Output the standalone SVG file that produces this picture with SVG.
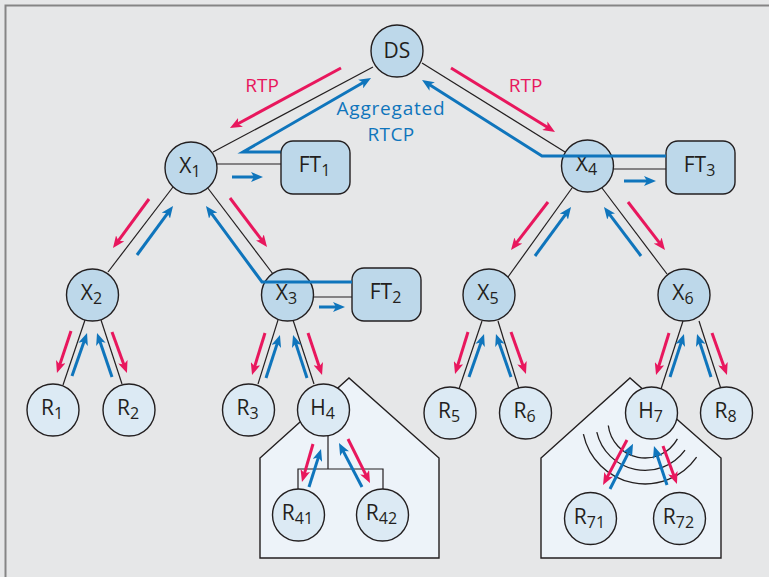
<svg xmlns="http://www.w3.org/2000/svg" width="769" height="577" viewBox="0 0 769 577">
<style>
.bg{fill:#e6e7e8}
.frame{stroke:#858585;stroke-width:2;fill:none}
.house{fill:#edf3f9;stroke:#231f20;stroke-width:1.4}
.ln{stroke:#231f20;stroke-width:1.2;fill:none}
.r{stroke:#e8175d;stroke-width:3;fill:none;marker-end:url(#ar)}
.b{stroke:#0f75bc;stroke-width:3;fill:none;marker-end:url(#ab)}
.bn{stroke:#0f75bc;stroke-width:3;fill:none}
.arc{stroke:#231f20;stroke-width:1.3;fill:none}
.n1{fill:#bdd8ea;stroke:#231f20;stroke-width:1.4}
.n2{fill:#dceaf4;stroke:#231f20;stroke-width:1.4}
.lbl{font-family:"Open Sans","Noto Sans",sans-serif;font-size:21px;fill:#231f20;text-anchor:middle}
.sub{font-size:16px}
.rtp{font-family:"Open Sans","Noto Sans",sans-serif;font-size:19px;fill:#e8175d;text-anchor:middle}
.agg{font-family:"Open Sans","Noto Sans",sans-serif;font-size:19px;fill:#0f75bc;text-anchor:middle}
</style>
<defs>
<marker id="ar" viewBox="0 0 12 10" markerWidth="12" markerHeight="10" refX="4" refY="5" orient="auto" markerUnits="userSpaceOnUse"><path d="M0,0 L12,5 L0,10 L3,5 z" fill="#e8175d"/></marker>
<marker id="ab" viewBox="0 0 12 10" markerWidth="12" markerHeight="10" refX="4" refY="5" orient="auto" markerUnits="userSpaceOnUse"><path d="M0,0 L12,5 L0,10 L3,5 z" fill="#0f75bc"/></marker>
</defs>
<rect class="bg" x="0" y="0" width="769" height="577"/>
<path class="frame" d="M5.5,577 V5.5 H769"/>
<g id="houses">
<polygon class="house" points="260,558 260,458 349,378 439,458 439,558"/>
<polygon class="house" points="541,558 541,458 630,378 721,458 721,558"/>
</g>
<g id="labels">
<text class="rtp" x="262" y="92">RTP</text>
<text class="rtp" x="525.5" y="92">RTP</text>
<text class="agg" x="391" y="115" letter-spacing="0.8">Aggregated</text>
<text class="agg" x="391" y="141" letter-spacing="0.4">RTCP</text>
</g>
<g id="connectors">
<line class="ln" x1="373" y1="67" x2="213" y2="152"/>
<line class="ln" x1="422" y1="63" x2="565" y2="152"/>
<line class="ln" x1="217" y1="164" x2="281" y2="164"/>
<line class="ln" x1="613" y1="169" x2="666" y2="169"/>
<line class="ln" x1="173" y1="187" x2="108" y2="272"/>
<line class="ln" x1="207" y1="187" x2="273" y2="274"/>
<line class="ln" x1="313" y1="297" x2="352" y2="297"/>
<line class="ln" x1="572" y1="188" x2="508" y2="277"/>
<line class="ln" x1="602" y1="188" x2="667" y2="274"/>
<line class="ln" x1="85" y1="320" x2="63" y2="385"/>
<line class="ln" x1="101" y1="320" x2="122" y2="384"/>
<line class="ln" x1="278" y1="320" x2="258" y2="384"/>
<line class="ln" x1="293" y1="320" x2="314" y2="384"/>
<line class="ln" x1="482" y1="321" x2="459" y2="389"/>
<line class="ln" x1="498" y1="321" x2="519" y2="389"/>
<line class="ln" x1="683" y1="321" x2="661" y2="389"/>
<line class="ln" x1="699" y1="321" x2="721" y2="389"/>
<path class="ln" d="M328,435 V469 M298,489 V469 H383 V489"/>
<path class="arc" d="M608.3,425.5 A37,37 0 0 0 677.4,438.9"/>
<path class="arc" d="M596.8,432.1 A49.5,49.5 0 0 0 685,450.1"/>
<path class="arc" d="M583.4,434.1 A63,63 0 0 0 696.6,457.1"/>
<line class="r" x1="341" y1="68" x2="237" y2="124.2"/>
<path class="b" d="M281,152 H243 L364.1,82"/>
<line class="b" x1="232" y1="177" x2="255" y2="177"/>
<line class="r" x1="451" y1="68" x2="548.2" y2="127.8"/>
<line class="b" x1="624" y1="181" x2="648" y2="181"/>
<line class="r" x1="149" y1="199" x2="117.7" y2="241.6"/>
<line class="b" x1="137" y1="255" x2="168.3" y2="212.4"/>
<line class="r" x1="230" y1="198" x2="262.2" y2="240.6"/>
<line class="b" x1="319" y1="307" x2="337" y2="307"/>
<line class="r" x1="548" y1="202" x2="515.9" y2="243.7"/>
<line class="b" x1="535" y1="256" x2="566.3" y2="213.4"/>
<line class="b" x1="641" y1="256" x2="608.8" y2="213.4"/>
<line class="r" x1="628" y1="202" x2="660.1" y2="243.7"/>
<line class="r" x1="71" y1="331" x2="59.5" y2="365.4"/>
<line class="b" x1="72" y1="376" x2="84.4" y2="340.6"/>
<line class="b" x1="112" y1="377" x2="99.6" y2="340.6"/>
<line class="r" x1="112" y1="332" x2="124.2" y2="365.5"/>
<line class="r" x1="265" y1="333" x2="254.4" y2="367.4"/>
<line class="b" x1="266" y1="378" x2="277.5" y2="342.6"/>
<line class="b" x1="307" y1="378" x2="295.5" y2="342.6"/>
<line class="r" x1="308" y1="333" x2="319.5" y2="367.4"/>
<line class="r" x1="468" y1="332" x2="457.4" y2="366.4"/>
<line class="b" x1="469" y1="377" x2="481.4" y2="341.6"/>
<line class="b" x1="511" y1="377" x2="498.6" y2="341.6"/>
<line class="r" x1="511" y1="332" x2="523.3" y2="366.5"/>
<line class="r" x1="669" y1="333" x2="658.4" y2="367.4"/>
<line class="b" x1="670" y1="377" x2="681.5" y2="341.6"/>
<line class="b" x1="711" y1="377" x2="699.5" y2="341.6"/>
<line class="r" x1="712" y1="333" x2="724.3" y2="367.5"/>
<line class="r" x1="313" y1="444" x2="304.2" y2="474.3"/>
<line class="b" x1="309" y1="487" x2="318.6" y2="456.6"/>
<line class="b" x1="362" y1="487" x2="342.7" y2="450.1"/>
<line class="r" x1="348" y1="439" x2="366.4" y2="475.8"/>
<line class="r" x1="627" y1="440" x2="606.8" y2="477.9"/>
<line class="b" x1="610" y1="489" x2="629.4" y2="450.9"/>
<line class="b" x1="667" y1="485" x2="656.5" y2="453.6"/>
<line class="r" x1="663" y1="446" x2="674.2" y2="476.5"/>
</g>
<g id="DS"><circle class="n1" cx="397" cy="51" r="26"/><text class="lbl" x="397" y="58">DS</text></g>
<g id="X1"><circle class="n1" cx="191" cy="168" r="26"/><text class="lbl" x="190" y="173">X<tspan class="sub" dy="4">1</tspan></text></g>
<g id="FT1"><rect class="n1" x="281" y="141" width="69" height="53" rx="12"/><text class="lbl" x="314.5" y="172">FT<tspan class="sub" dy="4">1</tspan></text></g>
<g id="X4"><circle class="n1" cx="587.5" cy="166" r="26"/><text class="lbl" x="586.5" y="171">X<tspan class="sub" dy="4">4</tspan></text></g>
<g id="FT3"><rect class="n1" x="666" y="141" width="69" height="53" rx="12"/><text class="lbl" x="699.5" y="172">FT<tspan class="sub" dy="4">3</tspan></text></g>
<g id="X2"><circle class="n1" cx="92.5" cy="295" r="26"/><text class="lbl" x="91.5" y="300">X<tspan class="sub" dy="4">2</tspan></text></g>
<g id="X3"><circle class="n1" cx="287.5" cy="295" r="26"/><text class="lbl" x="286.5" y="300">X<tspan class="sub" dy="4">3</tspan></text></g>
<g id="FT2"><rect class="n1" x="352" y="268" width="69" height="53" rx="12"/><text class="lbl" x="385.5" y="299">FT<tspan class="sub" dy="4">2</tspan></text></g>
<g id="X5"><circle class="n1" cx="489" cy="295" r="26"/><text class="lbl" x="488" y="300">X<tspan class="sub" dy="4">5</tspan></text></g>
<g id="X6"><circle class="n1" cx="684" cy="295" r="26"/><text class="lbl" x="683" y="300">X<tspan class="sub" dy="4">6</tspan></text></g>
<g id="R1"><circle class="n2" cx="53" cy="410" r="26"/><text class="lbl" x="52" y="415">R<tspan class="sub" dy="4">1</tspan></text></g>
<g id="R2"><circle class="n2" cx="129" cy="410" r="26"/><text class="lbl" x="128" y="415">R<tspan class="sub" dy="4">2</tspan></text></g>
<g id="R3"><circle class="n2" cx="248.5" cy="410" r="26"/><text class="lbl" x="247.5" y="415">R<tspan class="sub" dy="4">3</tspan></text></g>
<g id="H4"><circle class="n2" cx="323.5" cy="410" r="26"/><text class="lbl" x="322.5" y="415">H<tspan class="sub" dy="4">4</tspan></text></g>
<g id="R5"><circle class="n2" cx="450" cy="413" r="26"/><text class="lbl" x="449" y="418">R<tspan class="sub" dy="4">5</tspan></text></g>
<g id="R6"><circle class="n2" cx="525.5" cy="413" r="26"/><text class="lbl" x="524.5" y="418">R<tspan class="sub" dy="4">6</tspan></text></g>
<g id="H7"><circle class="n2" cx="651.5" cy="413" r="26"/><text class="lbl" x="650.5" y="418">H<tspan class="sub" dy="4">7</tspan></text></g>
<g id="R8"><circle class="n2" cx="726.5" cy="413" r="26"/><text class="lbl" x="725.5" y="418">R<tspan class="sub" dy="4">8</tspan></text></g>
<g id="R41"><circle class="n2" cx="298.5" cy="515" r="26"/><text class="lbl" x="297.5" y="520">R<tspan class="sub" dy="4">41</tspan></text></g>
<g id="R42"><circle class="n2" cx="382.5" cy="515" r="26"/><text class="lbl" x="381.5" y="520">R<tspan class="sub" dy="4">42</tspan></text></g>
<g id="R71"><circle class="n2" cx="590.5" cy="518.5" r="26"/><text class="lbl" x="589.5" y="523.5">R<tspan class="sub" dy="4">71</tspan></text></g>
<g id="R72"><circle class="n2" cx="679.5" cy="518.5" r="26"/><text class="lbl" x="678.5" y="523.5">R<tspan class="sub" dy="4">72</tspan></text></g>
<g id="rtcp-overlay">
<path class="bn" d="M352,282 H262 L210.7,212.4" marker-end="url(#ab)"/>
<path class="bn" d="M666,156 H542 L428.8,84.3" marker-end="url(#ab)"/>
</g>
</svg>
